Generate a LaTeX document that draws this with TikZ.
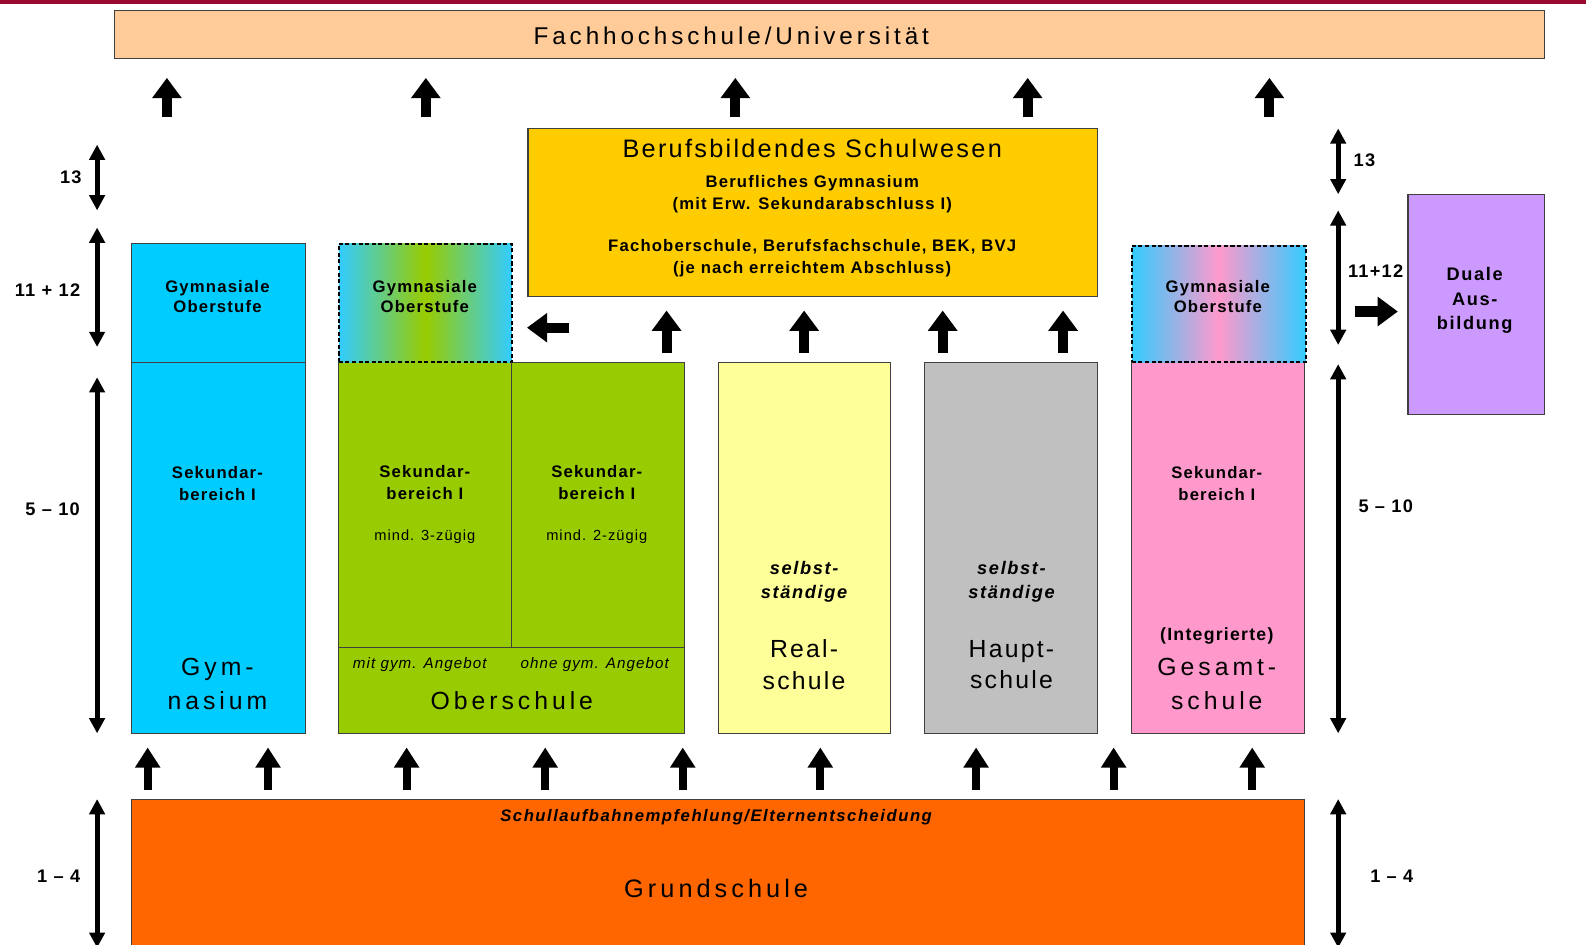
\documentclass[tikz,border=0pt]{standalone}
\usepackage{fontspec}
\setmainfont{Liberation Sans}[LetterSpace=7]
\newfontfamily\widef{Liberation Sans}[LetterSpace=16]
\newfontfamily\midf{Liberation Sans}[LetterSpace=9]
\usetikzlibrary{arrows.meta}
\definecolor{redbar}{HTML}{9A0A2E}
\definecolor{fhcol}{HTML}{FFCC99}
\definecolor{bbscol}{HTML}{FFCC00}
\definecolor{gymcol}{HTML}{00CCFF}
\definecolor{obcol}{HTML}{99CC00}
\definecolor{realcol}{HTML}{FFFF99}
\definecolor{hauptcol}{HTML}{C0C0C0}
\definecolor{gescol}{HTML}{FF99CC}
\definecolor{dualcol}{HTML}{CC99FF}
\definecolor{grundcol}{HTML}{FF6600}
\definecolor{skyblue}{HTML}{33CCFF}
\begin{document}
\begin{tikzpicture}[x=1pt,y=-1pt,
  box/.style={draw=black!75, line width=1pt, inner sep=0pt, outer sep=0pt},
  dbox/.style={draw=black, line width=1.5pt, dash pattern=on 4pt off 2.5pt, inner sep=0pt, outer sep=0pt},
  lbl/.style={inner sep=0pt, align=center, text=black},
  small/.style={font=\fontsize{16.5}{22}\selectfont\bfseries},
  big/.style={font=\widef\fontsize{24.5}{34}\selectfont},
  side/.style={font=\fontsize{18}{22}\selectfont\bfseries},
  bigarrow/.style={line width=10pt, arrows={-Triangle[width=28pt,length=20pt]}},
  smallarrow/.style={line width=8pt, arrows={-Triangle[width=24pt,length=20pt]}},
  dblarrow/.style={line width=5pt, arrows={Triangle[width=15pt,length=15pt]-Triangle[width=15pt,length=15pt]}},
]
\useasboundingbox (0,0) rectangle (1568,934);
\node[fill=redbar, minimum width=1568pt, minimum height=4pt, inner sep=0pt, anchor=north west] (topbar) at (0,0) {};

% boxes
\node[box, fill=fhcol, minimum width=1414pt, minimum height=48pt] (fh) at (820,34) {};
\node[box, fill=bbscol, minimum width=563pt, minimum height=166pt] (bbs) at (803.5,210) {};
\node[box, fill=gymcol, minimum width=172pt, minimum height=117pt] (gymO) at (216,299.5) {};
\node[box, fill=gymcol, minimum width=172pt, minimum height=367pt] (gym) at (216,541.5) {};
\node[box, fill=obcol, minimum width=342pt, minimum height=367pt] (ob) at (506,541.5) {};
\node[dbox, left color=skyblue, right color=skyblue, middle color=obcol, minimum width=171pt, minimum height=117pt] (obO) at (420.5,299.5) {};
\node[box, fill=realcol, minimum width=170pt, minimum height=367pt] (real) at (795,541.5) {};
\node[box, fill=hauptcol, minimum width=171pt, minimum height=367pt] (haupt) at (999.5,541.5) {};
\node[box, fill=gescol, minimum width=171pt, minimum height=367pt] (ges) at (1204.5,541.5) {};
\node[dbox, left color=skyblue, right color=skyblue, middle color=gescol, minimum width=172pt, minimum height=115pt] (gesO) at (1205,300.5) {};
\node[box, fill=dualcol, minimum width=135pt, minimum height=218pt] (duale) at (1459.5,301) {};
\node[box, fill=grundcol, minimum width=1160pt, minimum height=170pt] (grund) at (710,875) {};

% Oberschule inner lines
\coordinate (obmid) at (506,640);
\draw[black!75, line width=1pt] (ob.north) -- (obmid);
\draw[black!75, line width=1pt] (ob.west |- obmid) -- (ob.east |- obmid);

% texts
\node[lbl, font=\widef\fontsize{24}{28}\selectfont] (fht) at (723,35) {Fachhochschule/Universität};
\node[lbl, font=\midf\fontsize{25}{30}\selectfont] (bbst) at (803,147) {Berufsbildendes Schulwesen};
\node[lbl, small] (bbs1) at (803,192) {Berufliches Gymnasium\\(mit Erw. Sekundarabschluss I)};
\node[lbl, small] (bbs2) at (803,255) {Fachoberschule, Berufsfachschule, BEK, BVJ\\(je nach erreichtem Abschluss)};

\node[lbl, small, font=\fontsize{16.5}{20}\selectfont\bfseries] (gymOt) at (215,293) {Gymnasiale\\Oberstufe};
\node[lbl, small, font=\fontsize{16.5}{20}\selectfont\bfseries] (obOt) at (420,293) {Gymnasiale\\Oberstufe};
\node[lbl, small, font=\fontsize{16.5}{20}\selectfont\bfseries] (gesOt) at (1204,293) {Gymnasiale\\Oberstufe};

\node[lbl, small] (gyms) at (215,478) {Sekundar-\\bereich I};
\node[lbl, small] (obs1) at (420,477) {Sekundar-\\bereich I};
\node[lbl, small] (obs2) at (590,477) {Sekundar-\\bereich I};
\node[lbl, small] (gess) at (1203,478) {Sekundar-\\bereich I};

\node[lbl, font=\fontsize{14.5}{16}\selectfont] (obz1) at (420,531) {mind. 3-zügig};
\node[lbl, font=\fontsize{14.5}{16}\selectfont] (obz2) at (590,531) {mind. 2-zügig};
\node[lbl, font=\fontsize{15}{16}\selectfont\itshape] (oba1) at (415,657) {mit gym. Angebot};
\node[lbl, font=\fontsize{15}{16}\selectfont\itshape] (oba2) at (588,657) {ohne gym. Angebot};
\node[lbl, big] (obt) at (506,693) {Oberschule};

\node[lbl, big] (gymt) at (215,676) {Gym-\\nasium};
\node[lbl, font=\midf\fontsize{18}{24}\selectfont\bfseries\itshape] (reals) at (795,575) {selbst-\\ständige};
\node[lbl, font=\midf\fontsize{18}{24}\selectfont\bfseries\itshape] (haupts) at (1000,575) {selbst-\\ständige};
\node[lbl, font=\midf\fontsize{24.5}{31}\selectfont] (realt) at (795,657) {Real-\\schule};
\node[lbl, font=\midf\fontsize{24.5}{31}\selectfont] (hauptt) at (1000,657) {Haupt-\\schule};
\node[lbl, font=\fontsize{17.5}{20}\selectfont\bfseries] (gesi) at (1203,629) {(Integrierte)};
\node[lbl, big] (gest) at (1203,676) {Gesamt-\\schule};
\node[lbl, font=\midf\fontsize{18}{24.5}\selectfont\bfseries] (dualet) at (1458,297) {Duale\\Aus-\\bildung};
\node[lbl, font=\midf\fontsize{16.5}{18}\selectfont\bfseries\itshape] (grunde) at (708,808) {Schullaufbahnempfehlung/Elternentscheidung};
\node[lbl, font=\widef\fontsize{25}{28}\selectfont] (grundt) at (708,878) {Grundschule};

% side labels
\node[lbl, side] (l13) at (70,175) {13};
\node[lbl, side] (l1112) at (47,287) {11 + 12};
\node[lbl, side] (l510) at (52,503) {5 – 10};
\node[lbl, side] (l14) at (58,866) {1 – 4};
\node[lbl, side] (r13) at (1349,158) {13};
\node[lbl, side] (r1112) at (1360,268) {11+12};
\node[lbl, side] (r510) at (1370,500) {5 – 10};
\node[lbl, side] (r14) at (1376,866) {1 – 4};

% side double arrows
\foreach \n/\x/\a/\b in {la/96/143/208, lb/96/225/343, lc/96/373/725, ld/96/790/937,
                         ra/1323/127/192, rb/1323/208/341, rc/1323/360/725, rd/1323/790/937} {
  \coordinate (\n1) at (\x,\a);
  \coordinate (\n2) at (\x,\b);
  \draw[dblarrow] (\n1) -- (\n2);
}

% top arrows to Fachhochschule
\foreach \i/\x in {1/165,2/421,3/727,4/1016,5/1255} {
  \coordinate (ta\i) at (\x,116);
  \coordinate (tb\i) at (\x,77);
  \draw[bigarrow] (ta\i) -- (tb\i);
}
% arrows to Berufsbildendes Schulwesen
\foreach \i/\x in {1/659,2/795,3/932,4/1051} {
  \coordinate (ma\i) at (\x,349);
  \coordinate (mb\i) at (\x,307);
  \draw[bigarrow] (ma\i) -- (mb\i);
}
% left arrow towards Oberstufe, right arrow to Duale Ausbildung
\coordinate (la) at (563,324);
\coordinate (lb) at (521,324);
\draw[bigarrow] (la) -- (lb);
\coordinate (ra) at (1340,308);
\coordinate (rb) at (1382,308);
\draw[bigarrow] (ra) -- (rb);

% arrows from Grundschule
\foreach \i/\x in {1/146,2/265,3/402,4/539,5/675,6/811,7/965,8/1101,9/1238} {
  \coordinate (ba\i) at (\x,781);
  \coordinate (bb\i) at (\x,739);
  \draw[smallarrow] (ba\i) -- (bb\i);
}
\end{tikzpicture}
\end{document}
